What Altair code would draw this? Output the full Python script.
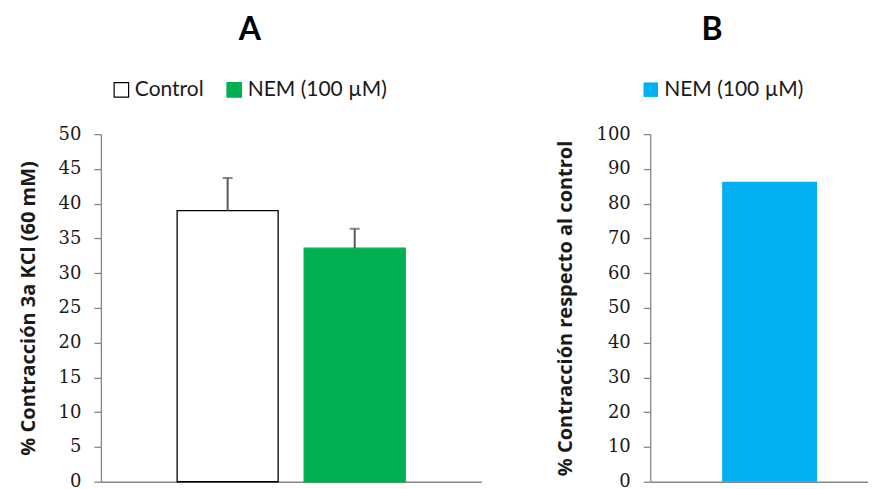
import altair as alt
import pandas as pd

# ---- data ----
series_a = ["Control", "NEM (100 µM)"]
values_a = [39.0, 33.6]
errors_a = [4.7, 2.8]

series_b = ["NEM (100 µM)"]
values_b = [86.3]

panel_titles = ["A", "B"]
y_title_a = "% Contracción 3a KCl (60 mM)"
y_title_b = "% Contracción respecto al control"
ticks_a = [0, 5, 10, 15, 20, 25, 30, 35, 40, 45, 50]
ticks_b = [0, 10, 20, 30, 40, 50, 60, 70, 80, 90, 100]

df_a = pd.DataFrame({"serie": series_a, "valor": values_a, "error": errors_a})
df_a["sup"] = df_a["valor"] + df_a["error"]
df_b = pd.DataFrame({"serie": series_b, "valor": values_b})

AXIS_GRAY = "#868686"
TXT = "#1a1a1a"
LABEL_FONT = "DejaVu Serif"
SANS = "Lato"
TITLE_SANS = "Open Sans"


def y_axis(title, vals):
    return alt.Axis(
        values=vals, title=title, grid=False, labelOverlap=False,
        domainColor=AXIS_GRAY, domainWidth=1.3,
        tickColor=AXIS_GRAY, tickSize=7, tickWidth=1.3,
        labelFont=LABEL_FONT, labelFontSize=18, labelColor=TXT, labelPadding=13,
        titleFont=TITLE_SANS, titleFontSize=20, titleFontWeight="bold", titleColor=TXT,
        titlePadding=20,
    )


def x_axis():
    return alt.Axis(labels=False, ticks=False, title=None, grid=False,
                    domainColor=AXIS_GRAY, domainWidth=1.5)


def legend(lx, ly):
    return alt.Legend(
        orient="none", legendX=lx, legendY=ly, direction="horizontal", title=None,
        symbolType="square", symbolSize=210, symbolStrokeWidth=1.2,
        labelFont=SANS, labelFontSize=21, labelColor=TXT, labelOffset=3,
        columnPadding=20,
    )


def title(t):
    return alt.TitleParams(text=t, font=SANS, fontSize=32, fontWeight="bold",
                           color="black", anchor="middle", frame="bounds", offset=32)


# ---- panel A ----
axis_a = y_axis(y_title_a, ticks_a)
scale_ya = alt.Scale(domain=[0, 50])
xA = alt.X("serie:N", sort=series_a, axis=x_axis(),
           scale=alt.Scale(domain=series_a, paddingInner=0.205, paddingOuter=0.6))

bars_a = alt.Chart(df_a).mark_bar(strokeWidth=1.3).encode(
    x=xA, y=alt.Y("valor:Q", scale=scale_ya, axis=axis_a),
    fill=alt.Fill("serie:N", scale=alt.Scale(domain=series_a, range=["white", "#00B050"]),
                  legend=legend(10, -55)),
    stroke=alt.Stroke("serie:N", scale=alt.Scale(domain=series_a, range=["black", "#00B050"]),
                      legend=legend(10, -55)),
)
err_a = alt.Chart(df_a).mark_rule(color="#595959", strokeWidth=2).encode(
    x=xA, y=alt.Y("valor:Q", scale=scale_ya, axis=axis_a), y2="sup:Q")
cap_a = alt.Chart(df_a).mark_tick(color="#595959", thickness=2, size=10).encode(
    x=xA, y=alt.Y("sup:Q", scale=scale_ya, axis=axis_a))

panel_a = alt.layer(bars_a, err_a, cap_a).properties(
    width=381, height=348, title=title(panel_titles[0]))

# ---- panel B ----
xB = alt.X("serie:N", axis=x_axis(),
           scale=alt.Scale(domain=series_b, paddingInner=0.5, paddingOuter=0.324, align=0.585))
yB = alt.Y("valor:Q", scale=alt.Scale(domain=[0, 100]), axis=y_axis(y_title_b, ticks_b))

panel_b = alt.Chart(df_b).mark_bar().encode(
    x=xB, y=yB,
    fill=alt.Fill("serie:N", scale=alt.Scale(domain=series_b, range=["#00B0F0"]),
                  legend=legend(-10, -55)),
).properties(width=218, height=348, title=title(panel_titles[1]))

chart = alt.hconcat(panel_a, panel_b, spacing=74).resolve_scale(
    fill="independent", stroke="independent", y="independent", x="independent"
).properties(
    padding={"left": 10, "top": 6, "right": 0, "bottom": 0}, background="white"
).configure_view(stroke=None)

chart.save("out.html", embed_options={"renderer": "svg", "actions": False})
